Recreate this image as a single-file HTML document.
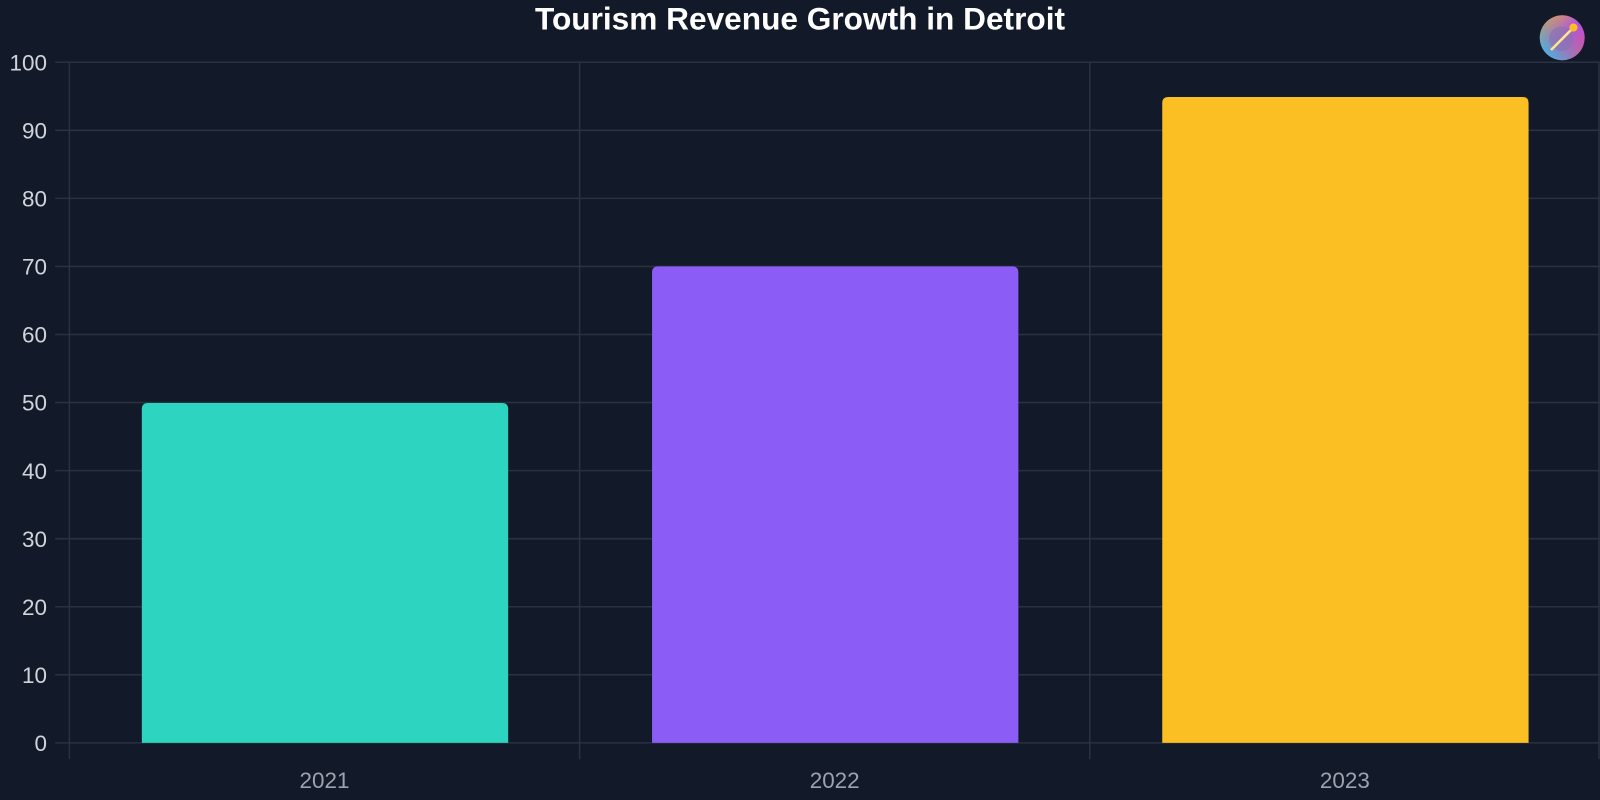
<!DOCTYPE html>
<html><head><meta charset="utf-8"><style>
html,body{margin:0;padding:0;background:#121929;}
svg{display:block;font-family:"Liberation Sans",sans-serif;}
</style></head><body>
<svg width="1600" height="800" viewBox="0 0 1568 784">
<rect width="1568" height="784" fill="#121929"/>
<text x="784" y="29" text-anchor="middle" font-size="31" font-weight="bold" fill="#ffffff">Tourism Revenue Growth in Detroit</text>
<g stroke="#2a3242" stroke-width="1.5">
<line x1="54" y1="61" x2="1568" y2="61"/>
<line x1="54" y1="127.7" x2="1568" y2="127.7"/>
<line x1="54" y1="194.4" x2="1568" y2="194.4"/>
<line x1="54" y1="261.1" x2="1568" y2="261.1"/>
<line x1="54" y1="327.8" x2="1568" y2="327.8"/>
<line x1="54" y1="394.5" x2="1568" y2="394.5"/>
<line x1="54" y1="461.2" x2="1568" y2="461.2"/>
<line x1="54" y1="527.9" x2="1568" y2="527.9"/>
<line x1="54" y1="594.6" x2="1568" y2="594.6"/>
<line x1="54" y1="661.3" x2="1568" y2="661.3"/>
<line x1="54" y1="728" x2="1568" y2="728"/>
<line x1="68" y1="61" x2="68" y2="744"/>
<line x1="568" y1="61" x2="568" y2="744"/>
<line x1="1068" y1="61" x2="1068" y2="744"/>
<line x1="1567" y1="61" x2="1567" y2="744"/>
</g>
<g fill="#d1d5db" font-size="22" text-anchor="end">
<text x="46" y="69">100</text>
<text x="46" y="135.7">90</text>
<text x="46" y="202.4">80</text>
<text x="46" y="269.1">70</text>
<text x="46" y="335.8">60</text>
<text x="46" y="402.5">50</text>
<text x="46" y="469.2">40</text>
<text x="46" y="535.9">30</text>
<text x="46" y="602.6">20</text>
<text x="46" y="669.3">10</text>
<text x="46" y="736">0</text>
</g>
<g fill="#9ca3af" font-size="22" text-anchor="middle">
<text x="318" y="772">2021</text>
<text x="818" y="772">2022</text>
<text x="1318" y="772">2023</text>
</g>
<path d="M139 728 V401 Q139 395 145 395 H492 Q498 395 498 401 V728 Z" fill="#2dd4bf"/>
<path d="M639 728 V267 Q639 261 645 261 H992 Q998 261 998 267 V728 Z" fill="#8b5cf6"/>
<path d="M1139 728 V101 Q1139 95 1145 95 H1492 Q1498 95 1498 101 V728 Z" fill="#fbbf24"/>
<defs><linearGradient id="lg" x1="0" y1="0" x2="1" y2="1">
<stop offset="0" stop-color="#facc15"/><stop offset="0.5" stop-color="#a855f7"/><stop offset="1" stop-color="#ec4899"/></linearGradient>
<linearGradient id="lg2" x1="0" y1="1" x2="1" y2="0"><stop offset="0" stop-color="#22d3ee"/><stop offset="1" stop-color="#f43f5e" stop-opacity="0"/></linearGradient></defs>
<circle cx="1531" cy="37" r="22" fill="url(#lg)"/>
<circle cx="1531" cy="37" r="22" fill="url(#lg2)"/>
<circle cx="1530" cy="38" r="12" fill="#8b6fb0" opacity="0.6"/>
<line x1="1520" y1="49" x2="1541" y2="28" stroke="#fde68a" stroke-width="2.5"/>
<circle cx="1542" cy="27" r="4" fill="#fbbf24"/>
</svg>
</body></html>
